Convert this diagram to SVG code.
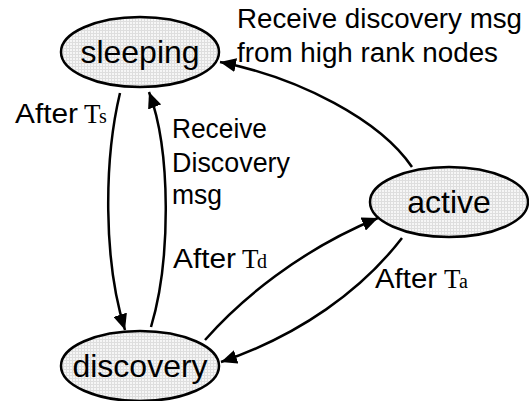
<svg xmlns="http://www.w3.org/2000/svg" width="529" height="401" viewBox="0 0 529 401">
<style>
.node{stroke:#000;stroke-width:2.5;fill:url(#grid)}
.nt{font-family:"Liberation Sans",Arial,sans-serif;font-size:32px;text-anchor:middle;fill:#000}
.lb{font-family:"Liberation Sans",Arial,sans-serif;font-size:27px;fill:#000}
.sf{font-family:"Liberation Serif","Times New Roman",serif;fill:#000}
.edge{fill:none;stroke:#000;stroke-width:2.5;marker-end:url(#arr)}
</style>
<defs>
<pattern id="grid" width="3" height="3" patternUnits="userSpaceOnUse">
<rect width="3" height="3" fill="#f6f6f6"/>
<path d="M0,0.5H3M0.5,0V3" stroke="#dedede" stroke-width="1"/>
</pattern>
<marker id="arr" markerUnits="userSpaceOnUse" markerWidth="18" markerHeight="14" refX="16" refY="7" orient="auto">
<path d="M0,0L16,7L0,14z" fill="#000"/>
</marker>
</defs>
<rect width="529" height="401" fill="#fff"/>
<g id="connectors">
<path class="edge" d="M412,167C380,120 300,78 220,62"/>
<path class="edge" d="M120,93C104,160 103,260 125,330"/>
<path class="edge" d="M151,327C171,260 171,150 149,92"/>
<path class="edge" d="M205,340C240,300 300,250 378,218"/>
<path class="edge" d="M402,238C362,290 300,335 221,362"/>
</g>
<g id="sleeping">
<ellipse class="node" cx="140" cy="52" rx="79" ry="35"/>
<text class="nt" x="140" y="63">sleeping</text>
</g>
<g id="active">
<ellipse class="node" cx="449" cy="202" rx="79" ry="35"/>
<text class="nt" x="449" y="213">active</text>
</g>
<g id="discovery">
<ellipse class="node" cx="140" cy="366" rx="79" ry="35"/>
<text class="nt" x="140" y="377">discovery</text>
</g>
<g id="labels">
<text class="lb" x="237" y="28" textLength="285" lengthAdjust="spacingAndGlyphs">Receive discovery msg</text>
<text class="lb" x="237" y="62" textLength="261" lengthAdjust="spacingAndGlyphs">from high rank nodes</text>
<text class="lb" x="15" y="123" textLength="63" lengthAdjust="spacingAndGlyphs">After</text>
<text class="sf" x="84" y="123" font-size="27">T</text>
<text class="sf" x="99" y="123" font-size="20">s</text>
<text class="lb" x="172" y="138" textLength="95" lengthAdjust="spacingAndGlyphs">Receive</text>
<text class="lb" x="172" y="172" textLength="118" lengthAdjust="spacingAndGlyphs">Discovery</text>
<text class="lb" x="172" y="204" textLength="50" lengthAdjust="spacingAndGlyphs">msg</text>
<text class="lb" x="173" y="268" textLength="63" lengthAdjust="spacingAndGlyphs">After</text>
<text class="sf" x="242" y="268" font-size="27">T</text>
<text class="sf" x="257" y="268" font-size="20">d</text>
<text class="lb" x="375" y="288" textLength="62" lengthAdjust="spacingAndGlyphs">After</text>
<text class="sf" x="444" y="288" font-size="27">T</text>
<text class="sf" x="459" y="288" font-size="20">a</text>
</g>
</svg>
